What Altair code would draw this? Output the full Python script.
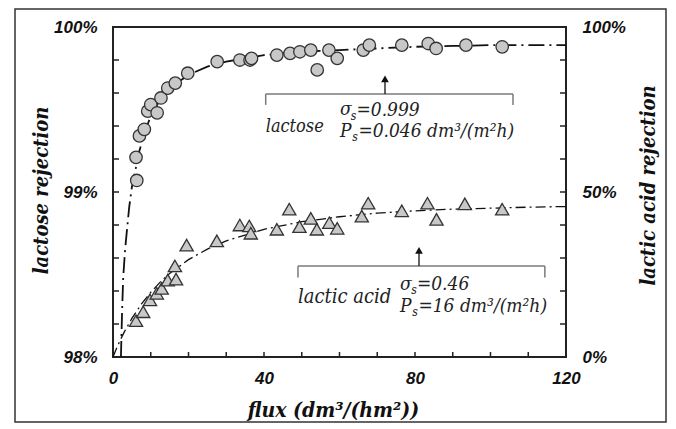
import altair as alt
import pandas as pd

# ---------------- data ----------------
lac_flux = [6.3, 6.1, 7.0, 8.3, 9.2, 10.0, 11.7, 12.7, 14.5, 16.5, 19.8, 27.6, 33.6, 36.3, 36.7,
            43.4, 46.9, 49.5, 52.4, 54.1, 57.2, 59.4, 66.3, 67.9, 76.5, 83.5, 85.6, 93.5, 103.1]
lac_rej = [99.07, 99.21, 99.34, 99.38, 99.49, 99.53, 99.48, 99.57, 99.63, 99.66, 99.72, 99.79, 99.80,
           99.80, 99.81, 99.83, 99.84, 99.85, 99.86, 99.74, 99.86, 99.81, 99.86, 99.89, 99.89, 99.90,
           99.87, 99.89, 99.88]

acid_flux = [6.1, 8.0, 9.8, 11.6, 12.9, 14.5, 16.7, 16.4, 19.5, 27.5, 33.6, 36.1, 36.5, 43.4, 46.7,
             49.4, 52.4, 54.0, 57.3, 59.4, 65.9, 67.6, 76.5, 83.3, 85.7, 93.2, 103.1]
acid_rej = [11.0, 13.7, 17.3, 19.3, 20.8, 23.3, 23.6, 27.6, 33.9, 35.2, 40.0, 39.7, 37.5, 38.7, 44.8,
            39.5, 42.0, 38.7, 40.7, 39.0, 42.7, 46.6, 44.3, 46.6, 41.7, 46.4, 44.8]

fit_lac_flux = [2.1, 2.4, 2.7, 3.2, 3.7, 4.3, 5.0, 6.0, 7.0, 8.5, 10, 12, 15, 20, 25, 30, 40, 50, 60,
                70, 80, 90, 100, 110, 120]
fit_lac = [98.00, 98.27, 98.48, 98.65, 98.77, 98.91, 99.03, 99.14, 99.25, 99.37, 99.46, 99.54, 99.63,
           99.71, 99.76, 99.79, 99.83, 99.85, 99.86, 99.87, 99.88, 99.885, 99.89, 99.89, 99.89]

fit_acid_flux = [0, 1, 2, 3, 5, 7.5, 10, 12.5, 15, 20, 25, 30, 40, 50, 60, 70, 80, 90, 100, 110, 120]
fit_acid = [0, 2.8, 5.3, 7.6, 11.7, 16.0, 19.6, 22.7, 25.3, 29.5, 32.7, 35.2, 38.7, 41.0, 42.5, 43.6,
            44.3, 44.8, 45.1, 45.4, 45.6]

x_tick_labels = [0, 40, 80, 120]
x_minor = [10, 20, 30, 40, 50, 60, 70, 80, 90, 100, 110]
lac_tick_labels = [98, 99, 100]
lac_minor = [98.2, 98.4, 98.6, 98.8, 99.0, 99.2, 99.4, 99.6, 99.8]
acid_tick_labels = [0, 50, 100]
acid_minor = [10, 20, 30, 40, 50, 60, 70, 80, 90]

# annotation brackets (flux, acid-scale %)
br_x = [40.45, 40.45, 105.96, 49.0, 49.0, 114.4]
br_x2 = [105.96, 40.45, 105.96, 114.4, 49.0, 114.4]
br_y = [79.7, 79.7, 79.7, 27.58, 27.58, 27.58]
br_y2 = [79.7, 76.4, 76.4, 27.58, 24.1, 24.1]
arr_x = [72.05, 81.06]
arr_y = [79.7, 27.58]
arr_y2 = [83.5, 31.6]
head_y = [84.3, 32.3]

ann_text = ["lactose", "σ", "s", "=0.999", "P", "s", "=0.046 dm³/(m²h)",
            "lactic acid", "σ", "s", "=0.46", "P", "s", "=16 dm³/(m²h)"]
ann_x = [40.45, 60.13, 63.0, 64.5, 60.13, 63.4, 65.0,
         49.0, 76.03, 79.0, 80.5, 76.03, 79.3, 80.9]
ann_y = [68.3, 73.2, 71.9, 72.9, 66.8, 65.6, 66.8,
         16.3, 20.3, 19.1, 20.3, 13.6, 12.4, 13.6]
ann_fs = [18, 19, 12, 19, 19, 12, 19,
          20, 19, 12, 19, 19, 12, 19]

W, H = 453, 330
SERIF = "DejaVu Serif Condensed, DejaVu Serif, serif"
SANS = "Liberation Sans, Arial, Helvetica, sans-serif"

xscale = alt.Scale(domain=[0, 120], nice=False, zero=False)
xaxis = alt.Axis(values=x_tick_labels, title="flux (dm³/(hm²))", grid=False, domain=False,
                 ticks=False, tickSize=0, labelPadding=13, labelFlush=False,
                 labelFont=SANS, labelFontSize=17, labelFontWeight="bold",
                 labelFontStyle="italic", labelColor="#111",
                 titleFont=SERIF, titleFontSize=21, titleFontWeight="bold",
                 titleFontStyle="italic", titleColor="#111",
                 titleX=220, titleY=53, titleBaseline="middle", titleAlign="center")
X = alt.X("flux:Q", scale=xscale, axis=xaxis)

lac_scale = alt.Scale(domain=[98, 100], nice=False, zero=False)
lac_axis = alt.Axis(values=lac_tick_labels, labelExpr="datum.value + '%'", title="lactose rejection",
                    grid=False, domain=False, ticks=False, tickSize=0, labelPadding=16,
                    labelFont=SANS, labelFontSize=17, labelFontWeight="bold",
                    labelFontStyle="italic", labelColor="#111",
                    titleFont=SERIF, titleFontSize=20, titleFontWeight="bold",
                    titleFontStyle="italic", titleColor="#111", titleAngle=270,
                    titleX=-72, titleY=163, titleBaseline="middle", titleAlign="center")
YL = alt.Y("lac:Q", scale=lac_scale, axis=lac_axis)

acid_scale = alt.Scale(domain=[0, 100], nice=False, zero=False)
acid_axis = alt.Axis(values=acid_tick_labels, labelExpr="datum.value + '%'",
                     title="lactic acid rejection", orient="right",
                     grid=False, domain=False, ticks=False, tickSize=0, labelPadding=16,
                     labelFont=SANS, labelFontSize=17, labelFontWeight="bold",
                     labelFontStyle="italic", labelColor="#111",
                     titleFont=SERIF, titleFontSize=20, titleFontWeight="bold",
                     titleFontStyle="italic", titleColor="#111", titleAngle=270,
                     titleX=82, titleY=158, titleBaseline="middle", titleAlign="center")
YA = alt.Y("acid:Q", scale=acid_scale, axis=acid_axis)

# ---------------- lactose layer (left axis) ----------------
lac_line = alt.Chart(pd.DataFrame({"flux": fit_lac_flux, "lac": fit_lac})).mark_line(
    color="#111", strokeWidth=1.8, strokeDash=[16, 5, 2, 5]).encode(x=X, y=YL)
lac_ticks = alt.Chart(pd.DataFrame({"lac": lac_minor})).mark_rule(
    color="#222", strokeWidth=1.5).encode(y=YL, x=alt.value(0), x2=alt.value(6))
lac_pts = alt.Chart(pd.DataFrame({"flux": lac_flux, "lac": lac_rej})).mark_circle(
    size=155, color="#c8c8c8", opacity=1, stroke="#333", strokeWidth=1.3).encode(x=X, y=YL)
lac_layer = alt.layer(lac_line, lac_ticks, lac_pts)

# ---------------- lactic acid layer (right axis) ----------------
acid_line = alt.Chart(pd.DataFrame({"flux": fit_acid_flux, "acid": fit_acid})).mark_line(
    color="#111", strokeWidth=1.3, strokeDash=[10, 4, 2, 4]).encode(x=X, y=YA)
acid_ticks = alt.Chart(pd.DataFrame({"acid": acid_minor})).mark_rule(
    color="#222", strokeWidth=1.5).encode(y=YA, x=alt.value(W - 6), x2=alt.value(W))
x_ticks = alt.Chart(pd.DataFrame({"flux": x_minor})).mark_rule(
    color="#222", strokeWidth=1.5).encode(x=X, y=alt.value(H - 5), y2=alt.value(H))
brackets = alt.Chart(pd.DataFrame({"flux": br_x, "flux2": br_x2, "acid": br_y, "acid2": br_y2})).mark_rule(
    color="#7a7a7a", strokeWidth=1.5).encode(x=X, x2="flux2:Q", y=YA, y2="acid2:Q")
arrows = alt.Chart(pd.DataFrame({"flux": arr_x, "acid": arr_y, "acid2": arr_y2})).mark_rule(
    color="#111", strokeWidth=1.3).encode(x=X, y=YA, y2="acid2:Q")
heads = alt.Chart(pd.DataFrame({"flux": arr_x, "acid": head_y})).mark_point(
    shape="triangle-up", size=60, filled=True, color="#111", opacity=1).encode(x=X, y=YA)
texts = alt.Chart(pd.DataFrame({"flux": ann_x, "acid": ann_y, "t": ann_text, "fs": ann_fs})).mark_text(
    font=SERIF, fontStyle="italic", align="left", baseline="alphabetic", color="#222"
).encode(x=X, y=YA, text="t:N", size=alt.Size("fs:Q", scale=None, legend=None))
acid_pts = alt.Chart(pd.DataFrame({"flux": acid_flux, "acid": acid_rej})).mark_point(
    shape="triangle-up", size=175, filled=True, color="#c8c8c8", opacity=1,
    stroke="#333", strokeWidth=1.3).encode(x=X, y=YA)
frame = alt.Chart(pd.DataFrame({"k": [0]})).mark_rect(
    filled=False, color="#333", strokeWidth=1.5).encode(
    x=alt.value(-98), x2=alt.value(553), y=alt.value(-18), y2=alt.value(395))
acid_layer = alt.layer(acid_line, acid_ticks, x_ticks, brackets, arrows, heads, texts, acid_pts, frame)

chart = alt.layer(lac_layer, acid_layer).resolve_scale(y="independent").properties(
    width=W, height=H,
    autosize=alt.AutoSizeParams(type="none"),
    padding={"left": 105, "top": 19, "right": 102, "bottom": 68},
    background="white",
).configure_view(stroke="#222", strokeWidth=2)

chart.save("out.html", embed_options={"renderer": "svg", "actions": False})
